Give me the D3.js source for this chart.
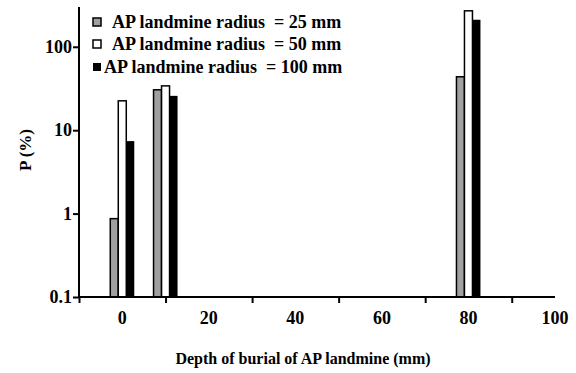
<!DOCTYPE html>
<html>
<head>
<meta charset="utf-8">
<script src="https://cdn.jsdelivr.net/npm/d3@7"></script>
<style>
  body { margin: 0; background: #fff; }
</style>
</head>
<body>
<svg id="chart" width="576" height="373"></svg>
<script>
const svg = d3.select("#chart"); // the only svg on the page
const FONT = "Liberation Serif";

// data
const depths = [0, 10, 80]; // depth of burial (mm)
const seriesNames = ["AP landmine radius  = 25 mm", "AP landmine radius  = 50 mm", "AP landmine radius  = 100 mm"];
const r25 = [0.87, 30.5, 43.7];
const r50 = [22.5, 34, 270];
const r100 = [7.4, 25.8, 211];
const seriesFill = ["#a0a0a0", "#ffffff", "#000000"];
const yTickValues = [0.1, 1, 10, 100];
const xLabelValues = [0, 20, 40, 60, 80, 100];
const xTickValues = [-10, 10, 30, 50, 70, 90];

const x = d3.scaleLinear().domain([-10, 100]).range([79, 555]);
const y = d3.scaleLog().domain([0.1, 300]).range([297, 7]);
const sub = d3.scaleBand().domain([0, 1, 2]).range([-12, 12]).paddingInner(0);

// one rect per depth and series
const rows = [r25, r50, r100];
let bars = [];
rows.forEach((vals, s) => {
    vals.forEach((v, i) => {
        bars.push({ s: s, depth: depths[i], value: v });
    });
});

svg.selectAll("rect.bar")
    .data(bars)
    .enter()
    .append("rect")
    .attr("class", "bar")
    .attr("x", (d) => x(d.depth) + sub(d.s))
    .attr("width", sub.bandwidth())
    .attr("y", (d) => y(d.value))
    .attr("height", (d) => y(0.1) - y(d.value))
    .attr("fill", (d) => seriesFill[d.s])
    .attr("stroke", (d) => d.s === 2 ? "none" : "#000")
    .attr("stroke-width", 1.5);

// y axis
const yAxis = svg.append("g")
    .attr("transform", `translate(${x(-10)},0)`)
    .call(d3.axisLeft(y).tickValues(yTickValues).tickFormat(d3.format("~g")).tickSize(6).tickPadding(1));
yAxis.select(".domain").attr("stroke-width", 2).attr("d", `M0,${y(0.1)}V${y(300)}`);
yAxis.selectAll(".tick line").attr("stroke-width", 2);
yAxis.selectAll("text")
    .attr("font-family", FONT).attr("font-weight", "bold").attr("font-size", 18);

// x axis: ticks sit between the labels
const xAxis = svg.append("g")
    .attr("transform", `translate(0,${y(0.1)})`)
    .call(d3.axisBottom(x).tickValues(xTickValues).tickFormat("").tickSize(6));
xAxis.select(".domain").attr("stroke-width", 2).attr("d", `M${x(-10)},0H${x(100)}`);
xAxis.selectAll(".tick line").attr("stroke-width", 2);

svg.append("g")
    .selectAll("text")
    .data(xLabelValues)
    .enter()
    .append("text")
    .attr("x", (d) => x(d))
    .attr("y", y(0.1) + 27)
    .attr("text-anchor", "middle")
    .attr("font-family", FONT).attr("font-weight", "bold").attr("font-size", 18)
    .text((d) => d);

// axis titles
svg.append("text")
    .attr("transform", "translate(31,150) rotate(-90)")
    .attr("text-anchor", "middle")
    .attr("font-family", FONT).attr("font-weight", "bold").attr("font-size", 17)
    .text("P (%)");

svg.append("text")
    .attr("x", 303)
    .attr("y", 364)
    .attr("text-anchor", "middle")
    .attr("font-family", FONT).attr("font-weight", "bold").attr("font-size", 16)
    .text("Depth of burial of AP landmine (mm)");

// legend
const legendX = [112, 112, 104];
const legendY = [22, 44, 67];
const legend = svg.append("g");
seriesNames.forEach((name, s) => {
    legend.append("rect")
        .attr("x", 93)
        .attr("y", legendY[s] - 4)
        .attr("width", 8)
        .attr("height", 8)
        .attr("fill", seriesFill[s])
        .attr("stroke", s === 2 ? "none" : "#000")
        .attr("stroke-width", 1.5);
    legend.append("text")
        .attr("x", legendX[s])
        .attr("y", legendY[s] + 6)
        .attr("font-family", FONT).attr("font-weight", "bold").attr("font-size", 18)
        .style("white-space", "pre")
        .text(name);
});
</script>
</body>
</html>
